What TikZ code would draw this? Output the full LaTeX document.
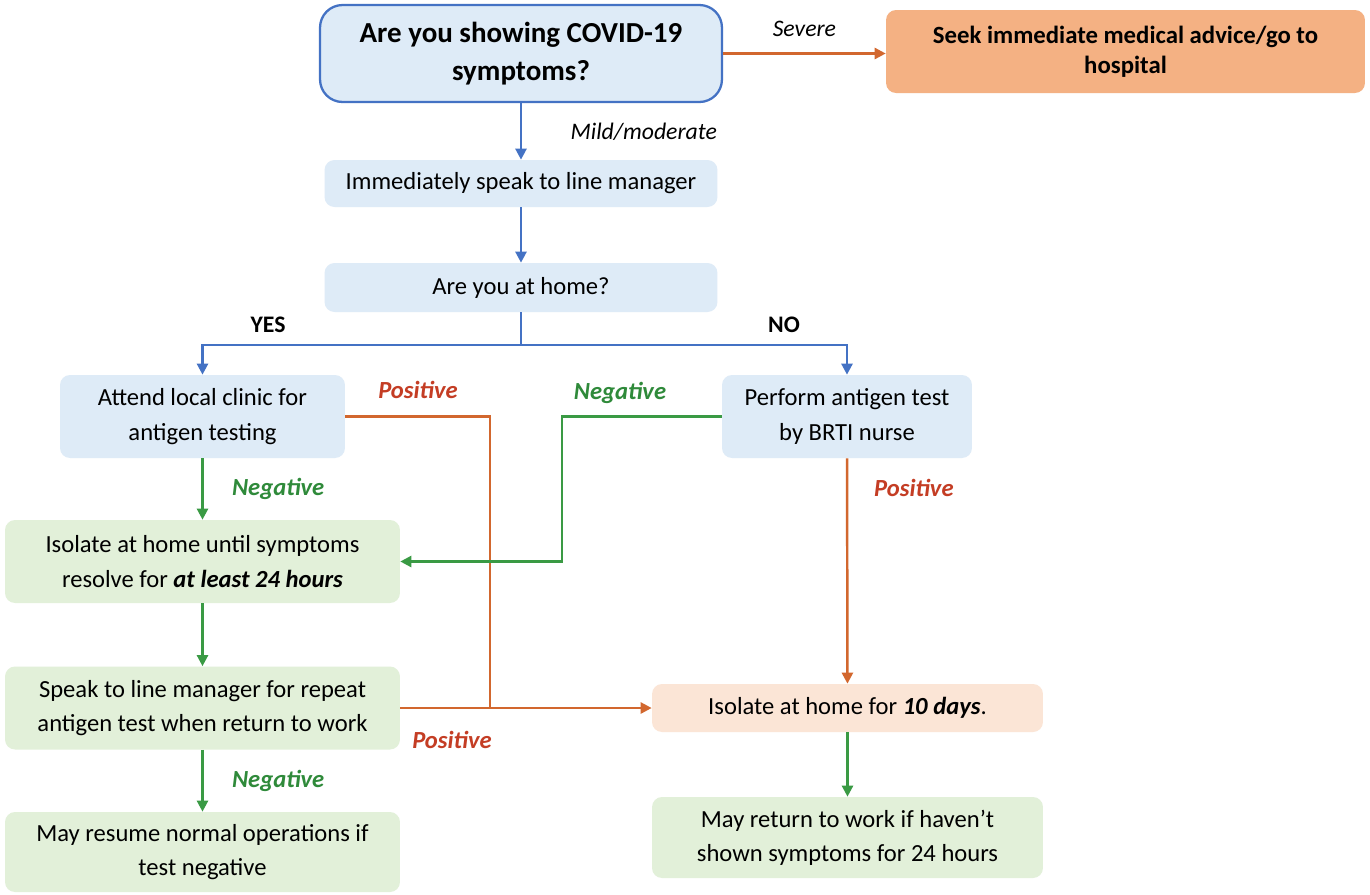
\documentclass[tikz,border=0pt]{standalone}
\usepackage{fontspec}
\setmainfont{Carlito}
\usetikzlibrary{arrows.meta,positioning}
\definecolor{lineblue}{HTML}{4472C4}
\definecolor{fillblue}{HTML}{DEEBF7}
\definecolor{lineorange}{HTML}{D2672E}
\definecolor{fillorange}{HTML}{F4B183}
\definecolor{fillpeach}{HTML}{FBE5D6}
\definecolor{linegreen}{HTML}{3A9A44}
\definecolor{fillgreen}{HTML}{E2F0D9}
\definecolor{textred}{HTML}{C43D24}
\definecolor{textgreen}{HTML}{2F8A3A}

\begin{document}
\begin{tikzpicture}[
        x=0.02cm, y=-0.02cm,
        >={Triangle[length=2.2mm,width=2.2mm]},
        box/.style={
            rectangle,
            rounded corners=0.2cm,
            align=center,
            inner sep=0pt,
            font=\fontsize{14}{19.5}\selectfont
        },
        bluebox/.style={box, fill=fillblue},
        greenbox/.style={box, fill=fillgreen},
        peachbox/.style={box, fill=fillpeach},
        blueline/.style={draw=lineblue, line width=1.4pt},
        orangeline/.style={draw=lineorange, line width=1.4pt},
        greenline/.style={draw=linegreen, line width=1.4pt},
        ansfont/.style={font=\fontsize{13.5}{16}\selectfont\itshape},
        poslabel/.style={font=\fontsize{14}{16}\selectfont\bfseries\itshape, text=textred},
        neglabel/.style={font=\fontsize{14}{16}\selectfont\bfseries\itshape, text=textgreen}
    ]
        \fill[white] (0,0) rectangle (1370,894);
        \useasboundingbox (0,0) rectangle (1370,894);

        % boxes
        \node[box, fill=fillblue, draw=lineblue, line width=1.3pt, rounded corners=0.45cm,
            minimum width=8.04cm, minimum height=1.94cm,
            font=\fontsize{16.5}{22}\selectfont\bfseries] (symptoms) at (521,53.5)
            {Are you showing COVID-19\\symptoms?};
        \node[box, fill=fillorange, minimum width=9.58cm, minimum height=1.66cm,
            font=\fontsize{14.1}{17}\selectfont\bfseries] (hospital) at (1125.5,51.5)
            {Seek immediate medical advice/go to\\hospital};
        \node[bluebox, minimum width=7.86cm, minimum height=0.94cm] (speak) at (521,183.5)
            {Immediately speak to line manager};
        \node[bluebox, minimum width=7.86cm, minimum height=0.98cm] (home) at (521,287.5)
            {Are you at home?};
        \node[bluebox, minimum width=5.7cm, minimum height=1.66cm] (clinic) at (202.5,416.5)
            {Attend local clinic for\\antigen testing};
        \node[bluebox, minimum width=5.0cm, minimum height=1.66cm] (nurse) at (847,416.5)
            {Perform antigen test\\by BRTI nurse};
        \node[greenbox, minimum width=7.9cm, minimum height=1.66cm] (isoday) at (202.5,561.5)
            {Isolate at home until symptoms\\resolve for \textbf{\textit{at least 24 hours}}};
        \node[greenbox, minimum width=7.9cm, minimum height=1.66cm] (repeat) at (202.5,708)
            {Speak to line manager for repeat\\antigen test when return to work};
        \node[greenbox, minimum width=7.9cm, minimum height=1.6cm] (resume) at (202.5,852)
            {May resume normal operations if\\test negative};
        \node[peachbox, minimum width=7.82cm, minimum height=0.96cm] (isoten) at (847.5,708)
            {Isolate at home for \textbf{\textit{10 days}}.};
        \node[greenbox, minimum width=7.82cm, minimum height=1.62cm] (back) at (847.5,837.5)
            {May return to work if haven’t\\shown symptoms for 24 hours};

        % connectors
        \draw[->, orangeline] (symptoms.east) -- (symptoms.east -| hospital.west)
            node[midway, above=0.2cm, ansfont, text=black] {Severe};
        \draw[->, blueline] (symptoms) -- (speak)
            node[midway, right=0.85cm, ansfont, text=black] {Mild/moderate};
        \draw[->, blueline] (speak) -- (home);
        \coordinate (fork) at (521,345);
        \draw[blueline] (home) -- (fork);
        \draw[->, blueline] (fork) -| (clinic);
        \draw[->, blueline] (fork) -| (nurse);
        \node[font=\fontsize{13.5}{16}\selectfont\bfseries] (yes) at (268,325) {YES};
        \node[font=\fontsize{13.5}{16}\selectfont\bfseries] (no) at (784,325) {NO};

        \coordinate (posjoin) at (490,708);
        \draw[orangeline] (clinic.east) -| (posjoin);
        \node[poslabel] (pos1) at (418,390) {Positive};
        \coordinate (negbend) at (562,416.5);
        \draw[->, greenline] (nurse.west) -- (negbend) |- (isoday.east);
        \node[neglabel] (neg1) at (620,393) {Negative};
        \draw[->, greenline] (clinic) -- (isoday)
            node[midway, right=0.45cm, neglabel] {Negative};
        \draw[->, orangeline] (nurse) -- (isoten)
            node[pos=0.13, right=0.4cm, poslabel] {Positive};
        \draw[->, greenline] (isoday) -- (repeat);
        \draw[->, orangeline] (repeat) -- (isoten);
        \node[poslabel] (pos2) at (452,740) {Positive};
        \draw[->, greenline] (repeat) -- (resume)
            node[midway, right=0.45cm, neglabel] {Negative};
        \draw[->, greenline] (isoten) -- (back);
    \end{tikzpicture}
\end{document}
